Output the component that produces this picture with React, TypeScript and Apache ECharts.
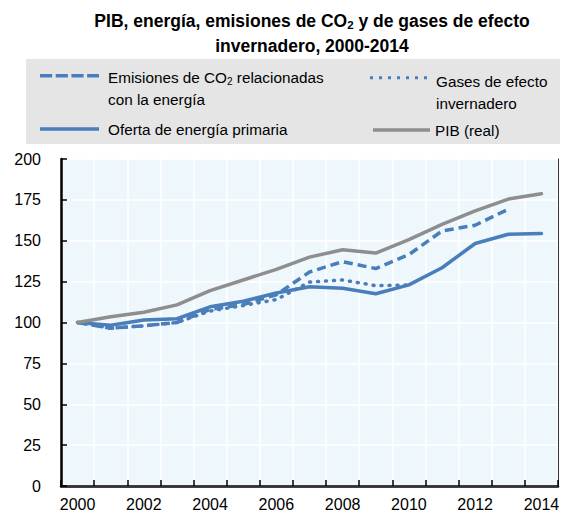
import React, { useEffect, useRef } from 'react';
import * as echarts from 'echarts';

const years = ['2000','2001','2002','2003','2004','2005','2006','2007','2008','2009','2010','2011','2012','2013','2014'];
const pibReal = [100, 103.5, 106.3, 110.8, 119.5, 126, 132.5, 140, 144.5, 142.5, 150.7, 160, 168.3, 175.5, 178.7];
const ofertaEnergia = [100, 98.3, 101.5, 102.3, 109.6, 113, 118, 121.9, 120.9, 117.6, 123, 133.5, 148.3, 154, 154.5];
const emisionesCO2 = [100, 96.5, 98, 100, 108, 111, 117, 130.9, 137.2, 133, 141.5, 156, 159.5, 169.3, null];
const gasesEfecto = [100, 96.5, 98, 100, 107, 110.4, 114, 124.7, 126, 122.5, 123, null, null, null, null];
const yMin = 0;
const yMax = 200;
const yStep = 25;

const NAME_CO2 = 'Emisiones de CO2 relacionadas con la energía';
const NAME_GHG = 'Gases de efecto invernadero';
const NAME_TPES = 'Oferta de energía primaria';
const NAME_PIB = 'PIB (real)';

const FONT = "'Liberation Sans Narrow', 'Arial Narrow', 'Liberation Sans', Arial, sans-serif";
const BLUE = '#4A7EBB';
const GRAY = '#8E8E8E';

const legendLabels: Record<string, string> = {
  [NAME_CO2]: '{t|Emisiones de CO}{s|2}{t| relacionadas}\n{t|con la energía}',
  [NAME_GHG]: '{t|Gases de efecto}\n{t|invernadero}',
  [NAME_TPES]: '{t|Oferta de energía primaria}',
  [NAME_PIB]: '{t|PIB (real)}',
};

const anchors = (w: number, h: number) =>
  `M0,0h0.01v0.01h-0.01z M${w},${h}h-0.01v-0.01h0.01z `;

const dashIcon = 'path://' + anchors(63, 44) +
  'M0,8h12.2v3.4h-12.2z M15.7,8h12.2v3.4h-12.2z M31.4,8h12.2v3.4h-12.2z M47.1,8h11.9v3.4h-11.9z';
const dotIcon = 'path://' + anchors(61, 44) +
  [0, 9, 18, 27, 36, 45, 54].map((x) => `M${x},6.2h3v3h-3z`).join(' ');
const solidIcon = 'path://' + anchors(63, 22) + 'M0,9.3h59v3.4h-59z';
const grayIcon = 'path://' + anchors(57, 22) + 'M0,9.3h57v3.4h-57z';

const legendText = {
  fontFamily: FONT,
  fontSize: 15.3,
  color: '#000',
  lineHeight: 22,
  rich: {
    t: { fontFamily: FONT, fontSize: 15.3, color: '#000', lineHeight: 22 },
    s: { fontFamily: FONT, fontSize: 10, color: '#000', padding: [8, 0, 0, 0] },
  },
};

function makeLegend(name: string, icon: string, color: string, left: number, top: number, w: number, h: number) {
  return {
    left,
    top,
    padding: 0,
    itemWidth: w,
    itemHeight: h,
    selectedMode: false,
    data: [{ name, icon, itemStyle: { color, borderWidth: 0 } }],
    formatter: (n: string) => legendLabels[n] || n,
    textStyle: legendText,
  };
}

export default function App() {
  const ref = useRef<HTMLDivElement>(null);
  useEffect(() => {
    if (!ref.current) return;
    const chart = echarts.init(ref.current, null, { renderer: 'svg' });
    const lineBase = { type: 'line', symbol: 'none', connectNulls: false, smooth: false };
    chart.setOption({
      animation: false,
      backgroundColor: '#fff',
      textStyle: { fontFamily: FONT },
      graphic: [
        {
          type: 'rect',
          silent: true,
          z: 0,
          shape: { x: 26, y: 59, width: 534, height: 85 },
          style: { fill: '#E5E5E6' },
        },
        {
          type: 'text',
          silent: true,
          x: 312,
          y: 8,
          style: {
            text: '{b|PIB, energía, emisiones de CO}{bs|2}{b| y de gases de efecto}\n{b|invernadero, 2000-2014}',
            align: 'center',
            verticalAlign: 'top',
            rich: {
              b: { fontFamily: FONT, fontSize: 17.5, fontWeight: 'bold', fill: '#000', lineHeight: 25 },
              bs: { fontFamily: FONT, fontSize: 11.5, fontWeight: 'bold', fill: '#000', padding: [8, 0, 0, 0] },
            },
          },
        },
      ],
      legend: [
        makeLegend(NAME_CO2, dashIcon, BLUE, 40, 66, 63, 44),
        makeLegend(NAME_GHG, dotIcon, BLUE, 370, 70, 61, 44),
        makeLegend(NAME_TPES, solidIcon, BLUE, 40, 118, 63, 22),
        makeLegend(NAME_PIB, grayIcon, GRAY, 373, 119, 57, 22),
      ],
      grid: {
        left: 61,
        right: 6,
        top: 159,
        bottom: 31,
        show: true,
        backgroundColor: '#EEF7FB',
        borderWidth: 0,
      },
      xAxis: [
        {
          type: 'category',
          data: years,
          boundaryGap: true,
          axisLine: { lineStyle: { color: '#000', width: 2.5 } },
          axisTick: { show: true, inside: true, length: 6, interval: 0, lineStyle: { color: '#000', width: 1.5 } },
          axisLabel: { interval: 1, margin: 10, fontSize: 16, color: '#000', fontFamily: FONT },
          splitLine: { show: true, interval: 0, lineStyle: { color: '#fff', width: 1.5 } },
        },
        {
          type: 'category',
          data: years,
          position: 'top',
          boundaryGap: true,
          axisLine: { show: true, lineStyle: { color: '#333', width: 1 } },
          axisTick: { show: false },
          axisLabel: { show: false },
          splitLine: { show: false },
        },
      ],
      yAxis: [
        {
          type: 'value',
          min: yMin,
          max: yMax,
          interval: yStep,
          axisLine: { show: true, lineStyle: { color: '#000', width: 2.5 } },
          axisTick: { show: true, inside: true, length: 6, lineStyle: { color: '#000', width: 1.5 } },
          axisLabel: { margin: 20, fontSize: 16, color: '#000', fontFamily: FONT },
          splitLine: { show: true, lineStyle: { color: '#fff', width: 1.5 } },
        },
        {
          type: 'value',
          min: yMin,
          max: yMax,
          interval: yStep,
          position: 'right',
          axisLine: { show: true, lineStyle: { color: '#333', width: 1 } },
          axisTick: { show: false },
          axisLabel: { show: false },
          splitLine: { show: false },
        },
      ],
      series: [
        {
          ...lineBase,
          name: NAME_GHG,
          data: gasesEfecto,
          itemStyle: { color: BLUE },
          lineStyle: { color: BLUE, width: 3.5, type: [1, 7], cap: 'round', join: 'round' },
        },
        {
          ...lineBase,
          name: NAME_TPES,
          data: ofertaEnergia,
          itemStyle: { color: BLUE },
          lineStyle: { color: BLUE, width: 3.5, type: 'solid', cap: 'round', join: 'round' },
        },
        {
          ...lineBase,
          name: NAME_CO2,
          data: emisionesCO2,
          itemStyle: { color: BLUE },
          lineStyle: { color: BLUE, width: 3.5, type: [9, 5], cap: 'butt', join: 'round' },
        },
        {
          ...lineBase,
          name: NAME_PIB,
          data: pibReal,
          itemStyle: { color: GRAY },
          lineStyle: { color: GRAY, width: 3.5, type: 'solid', cap: 'round', join: 'round' },
        },
      ],
    });
    return () => chart.dispose();
  }, []);
  return (
    <div
      ref={ref}
      style={{ position: 'fixed', left: 0, top: 0, width: 564, height: 517 }}
    />
  );
}
